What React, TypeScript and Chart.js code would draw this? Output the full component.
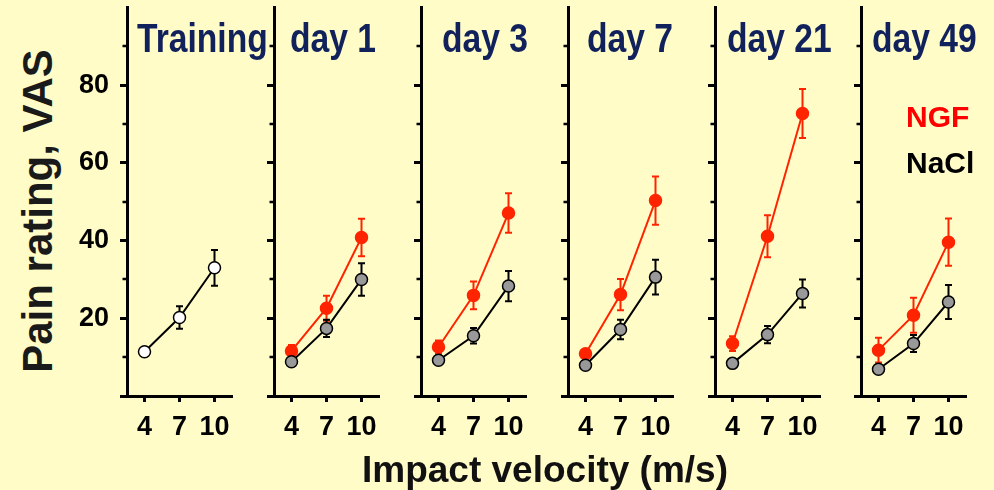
import React, { useEffect, useRef } from 'react';
import { Chart, registerables } from 'chart.js';

Chart.register(...registerables);

// ---------------- data ----------------
const VELOCITIES = [4, 7, 10];
const Y_MAJOR_TICKS = [0, 20, 40, 60, 80];
const Y_LABELED_TICKS = [20, 40, 60, 80];
const Y_MINOR_TICKS = [10, 30, 50, 70, 90];
const PANEL_TITLES = ['Training', 'day 1', 'day 3', 'day 7', 'day 21', 'day 49'];

const TRAINING = [11.4, 20.2, 33.0];
const TRAINING_ERR = [1.0, 2.9, 4.6];

const NGF_DAY1 = [11.6, 22.6, 40.8];
const NGF_DAY1_ERR = [1.5, 3.2, 4.8];
const NACL_DAY1 = [8.8, 17.4, 30.0];
const NACL_DAY1_ERR = [0.8, 2.2, 4.2];

const NGF_DAY3 = [12.6, 25.9, 47.1];
const NGF_DAY3_ERR = [1.7, 3.6, 5.1];
const NACL_DAY3 = [9.2, 15.5, 28.3];
const NACL_DAY3_ERR = [0.8, 2.0, 3.9];

const NGF_DAY7 = [10.9, 26.1, 50.3];
const NGF_DAY7_ERR = [1.0, 4.0, 6.2];
const NACL_DAY7 = [7.9, 17.1, 30.6];
const NACL_DAY7_ERR = [0.7, 2.5, 4.5];

const NGF_DAY21 = [13.5, 41.1, 72.7];
const NGF_DAY21_ERR = [1.9, 5.4, 6.3];
const NACL_DAY21 = [8.4, 15.8, 26.4];
const NACL_DAY21_ERR = [0.7, 2.2, 3.6];

const NGF_DAY49 = [11.8, 20.8, 39.6];
const NGF_DAY49_ERR = [3.2, 4.5, 6.1];
const NACL_DAY49 = [6.9, 13.5, 24.2];
const NACL_DAY49_ERR = [0.7, 2.2, 4.4];

const LEGEND_LABELS = ['NGF', 'NaCl'];
const Y_TITLE = 'Pain rating, VAS';
const X_TITLE = 'Impact velocity (m/s)';

// ---------------- styles / layout ----------------
const BG = '#FFFCC8';
const RED = '#FF2400';
const GREY = '#999999';
const NAVY = '#10215C';
const FONT = '"Liberation Sans", Arial, Helvetica, sans-serif';

const AXIS_LEFT = [127, 274, 421, 568, 714.5, 861];
const TITLE_LEFT = [137, 290, 442, 587, 727, 872];
const Y_AXIS_W = 60;
const CANVAS_W = 175;
const CANVAS_H = 490;

type Series = { values: number[]; errors: number[]; fill: string; stroke: string; line: string; err: string };

const ngf = (values: number[], errors: number[]): Series => ({ values, errors, fill: RED, stroke: RED, line: RED, err: RED });
const nacl = (values: number[], errors: number[]): Series => ({ values, errors, fill: GREY, stroke: '#000', line: '#000', err: '#000' });

const PANEL_SERIES: Series[][] = [
  [{ values: TRAINING, errors: TRAINING_ERR, fill: '#FFFFFF', stroke: '#000', line: '#000', err: '#000' }],
  [nacl(NACL_DAY1, NACL_DAY1_ERR), ngf(NGF_DAY1, NGF_DAY1_ERR)],
  [nacl(NACL_DAY3, NACL_DAY3_ERR), ngf(NGF_DAY3, NGF_DAY3_ERR)],
  [nacl(NACL_DAY7, NACL_DAY7_ERR), ngf(NGF_DAY7, NGF_DAY7_ERR)],
  [nacl(NACL_DAY21, NACL_DAY21_ERR), ngf(NGF_DAY21, NGF_DAY21_ERR)],
  [nacl(NACL_DAY49, NACL_DAY49_ERR), ngf(NGF_DAY49, NGF_DAY49_ERR)],
];

const errorBarPlugin = {
  id: 'errorBars',
  beforeDatasetDraw(chart: any, args: any) {
    const ds = chart.data.datasets[args.index];
    const errs: number[] = ds.errors;
    if (!errs) return;
    const ctx = chart.ctx;
    const xs = chart.scales.x;
    const ys = chart.scales.y;
    ctx.save();
    ctx.strokeStyle = ds.errColor;
    ctx.lineWidth = 2;
    ds.data.forEach((p: any, i: number) => {
      const x = xs.getPixelForValue(p.x);
      const yTop = ys.getPixelForValue(p.y + errs[i]);
      const yBot = ys.getPixelForValue(p.y - errs[i]);
      ctx.beginPath();
      ctx.moveTo(x, yTop);
      ctx.lineTo(x, yBot);
      ctx.moveTo(x - 3.5, yTop);
      ctx.lineTo(x + 3.5, yTop);
      ctx.moveTo(x - 3.5, yBot);
      ctx.lineTo(x + 3.5, yBot);
      ctx.stroke();
    });
    ctx.restore();
  },
};

const minorTickPlugin = {
  id: 'minorTicks',
  afterDraw(chart: any) {
    const ys = chart.scales.y;
    const ctx = chart.ctx;
    const left = chart.chartArea.left;
    ctx.save();
    ctx.strokeStyle = '#000';
    ctx.lineWidth = 2.5;
    Y_MINOR_TICKS.forEach((v) => {
      const py = Math.round(ys.getPixelForValue(v));
      ctx.beginPath();
      ctx.moveTo(left - 4.5, py);
      ctx.lineTo(left, py);
      ctx.stroke();
    });
    ctx.restore();
  },
};

function Panel({ index }: { index: number }) {
  const ref = useRef<HTMLCanvasElement>(null);
  useEffect(() => {
    const showLabels = index === 0;
    const tickFont = { family: FONT, size: 27, weight: 'bold' as const };
    const chart = new Chart(ref.current as HTMLCanvasElement, {
      type: 'line',
      data: {
        datasets: PANEL_SERIES[index].map((s) => ({
          data: VELOCITIES.map((v, i) => ({ x: v, y: s.values[i] })),
          errors: s.errors,
          errColor: s.err,
          borderColor: s.line,
          borderWidth: 2,
          pointRadius: 6,
          pointHoverRadius: 6,
          pointBackgroundColor: s.fill,
          pointBorderColor: s.stroke,
          pointBorderWidth: 1.5,
          tension: 0,
          clip: false,
        })) as any,
      },
      options: {
        responsive: false,
        animation: false,
        events: [],
        layout: { padding: { top: 6, right: 10, left: 0, bottom: 0 } },
        plugins: { legend: { display: false }, tooltip: { enabled: false } },
        scales: {
          x: {
            type: 'linear',
            min: 2.5,
            max: 11.5,
            afterBuildTicks: (s: any) => { s.ticks = VELOCITIES.map((v) => ({ value: v })); },
            afterFit: (s: any) => { s.height = 94; s.paddingLeft = 0; s.paddingRight = 0; },
            grid: { drawOnChartArea: false, drawTicks: true, tickLength: 6, tickWidth: 3, tickColor: '#000' },
            border: { display: true, color: '#000', width: 3 },
            ticks: { color: '#000', font: tickFont, padding: 9, autoSkip: false, maxRotation: 0, callback: (v: any) => String(v) },
          },
          y: {
            type: 'linear',
            min: 0,
            max: 100,
            afterBuildTicks: (s: any) => { s.ticks = Y_MAJOR_TICKS.map((v) => ({ value: v })); },
            afterFit: (s: any) => { s.width = Y_AXIS_W; s.paddingTop = 0; s.paddingBottom = 0; },
            grid: { drawOnChartArea: false, drawTicks: true, tickLength: 7, tickWidth: 3, tickColor: '#000' },
            border: { display: true, color: '#000', width: 3 },
            ticks: {
              color: '#000',
              font: tickFont,
              padding: 11,
              callback: (v: any) => (showLabels && Y_LABELED_TICKS.includes(Number(v)) ? String(v) : ''),
            },
          },
        },
      } as any,
      plugins: [errorBarPlugin, minorTickPlugin],
    });
    return () => chart.destroy();
  }, [index]);
  return (
    <canvas
      ref={ref}
      width={CANVAS_W}
      height={CANVAS_H}
      style={{ position: 'absolute', left: AXIS_LEFT[index] - Y_AXIS_W, top: 0, width: CANVAS_W, height: CANVAS_H }}
    />
  );
}

// text helper: places baseline at given y (line-height 1, Liberation metrics)
function Txt(props: { x: number; baseline: number; size: number; color: string; center?: boolean; squeeze?: number; children: string }) {
  const top = props.baseline - 0.8465 * props.size;
  const parts: string[] = [];
  if (props.center) parts.push('translateX(-50%)');
  if (props.squeeze) parts.push(`scaleX(${props.squeeze})`);
  return (
    <div
      style={{
        position: 'absolute',
        left: props.x,
        top,
        fontFamily: FONT,
        fontWeight: 'bold',
        fontSize: props.size,
        lineHeight: 1,
        color: props.color,
        whiteSpace: 'nowrap',
        transform: parts.length ? parts.join(' ') : undefined,
        transformOrigin: props.center ? '50% 50%' : '0 50%',
      }}
    >
      {props.children}
    </div>
  );
}

export default function App() {
  return (
    <div style={{ position: 'fixed', left: 0, top: 0, width: 994, height: 490, background: BG, overflow: 'hidden' }}>
      {PANEL_TITLES.map((_, i) => (
        <Panel key={i} index={i} />
      ))}
      {PANEL_TITLES.map((t, i) => (
        <Txt key={'t' + i} x={TITLE_LEFT[i]} baseline={53} size={41} squeeze={0.82} color={NAVY}>
          {t}
        </Txt>
      ))}
      <Txt x={906} baseline={127} size={30} color="#FF0000">{LEGEND_LABELS[0]}</Txt>
      <Txt x={906} baseline={173} size={30} color="#000">{LEGEND_LABELS[1]}</Txt>
      <Txt x={545} baseline={482} size={37} color="#111" center>{X_TITLE}</Txt>
      <div
        style={{
          position: 'absolute',
          left: 38,
          top: 211,
          fontFamily: FONT,
          fontWeight: 'bold',
          fontSize: 42,
          lineHeight: 1,
          color: '#1a1a1a',
          whiteSpace: 'nowrap',
          transform: 'translate(-50%, -50%) rotate(-90deg)',
        }}
      >
        {Y_TITLE}
      </div>
    </div>
  );
}
